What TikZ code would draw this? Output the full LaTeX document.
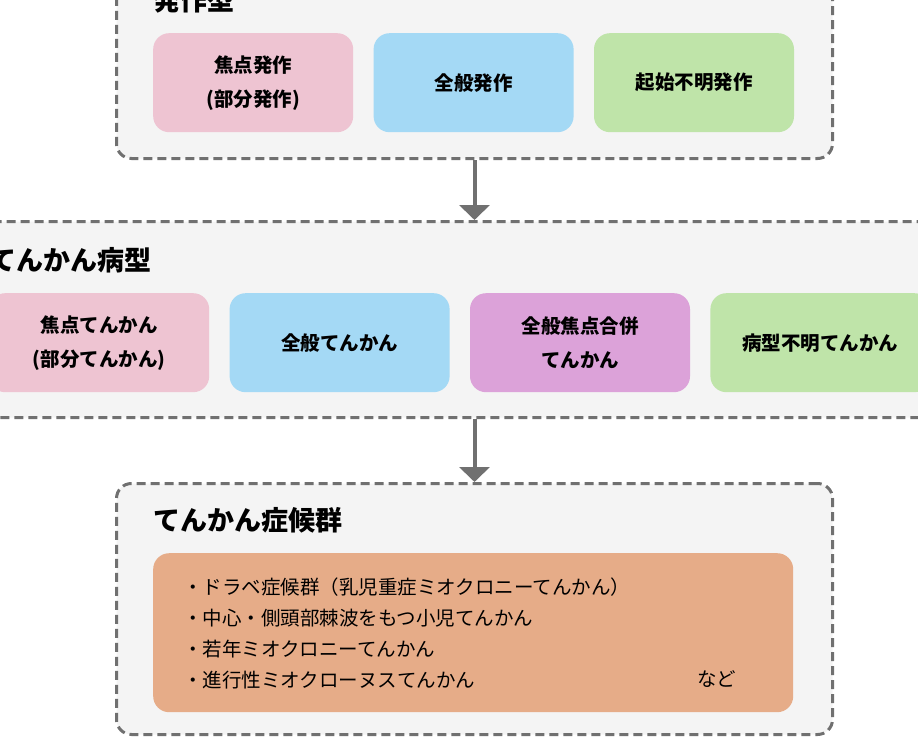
\documentclass[tikz,border=0pt]{standalone}
\usepackage{fontspec}
\setmainfont{Noto Sans CJK JP}
\usepackage{xcolor}
\usetikzlibrary{positioning}
\usetikzlibrary{arrows.meta}
\definecolor{panelgray}{HTML}{F4F4F4}
\definecolor{edgegray}{HTML}{707070}
\definecolor{focalpink}{HTML}{EEC4D2}
\definecolor{genblue}{HTML}{A4D9F5}
\definecolor{mixpurple}{HTML}{DCA2D9}
\definecolor{unkgreen}{HTML}{BFE4A9}
\definecolor{synorange}{HTML}{E6AC88}

\begin{document}
\begin{tikzpicture}[x=1pt,y=-1pt,node distance=20pt,
  panel/.style={draw=edgegray,fill=panelgray,line width=3pt,dash pattern=on 9pt off 5pt,rounded corners=15pt,anchor=north west,inner sep=0pt},
  head/.style={anchor=west,inner sep=0pt,font=\bfseries\fontsize{27}{32}\selectfont},
  kind/.style={rounded corners=16pt,minimum height=99pt,inner sep=0pt,align=center,anchor=north west,font=\bfseries\fontsize{19.5}{34}\selectfont},
  flow/.style={draw=edgegray,line width=4pt,-{Triangle[length=15pt,width=30pt]}}]
\clip (0,0) rectangle (918,741);

% seizure types
\node[panel,minimum width=716pt,minimum height=195pt] (seizure) at (115,-38) {};
\node[head] (seizurehead) at (153,0) {発作型};
\node[kind,fill=focalpink,minimum width=200pt] (sfocal) at (153,33) {焦点発作\\(部分発作)};
\node[kind,fill=genblue,minimum width=200pt,right=of sfocal] (sgen) {全般発作};
\node[kind,fill=unkgreen,minimum width=200pt,right=of sgen] (sunk) {起始不明発作};

% epilepsy types
\node[panel,minimum width=1016pt,minimum height=196pt] (epilepsy) at (-49,220) {};
\node[head] (epilepsyhead) at (-11,260) {てんかん病型};
\node[kind,fill=focalpink,minimum width=220pt] (efocal) at (-11,293) {焦点てんかん\\(部分てんかん)};
\node[kind,fill=genblue,minimum width=220pt,right=of efocal] (egen) {全般てんかん};
\node[kind,fill=mixpurple,minimum width=220pt,right=of egen] (emix) {全般焦点合併\\てんかん};
\node[kind,fill=unkgreen,minimum width=220pt,right=of emix] (eunk) {病型不明てんかん};

% syndromes
\node[panel,minimum width=716pt,minimum height=251pt] (syndrome) at (115,482) {};
\node[head] (syndromehead) at (153,520) {てんかん症候群};
\node[kind,fill=synorange,minimum width=640pt,minimum height=159pt] (synlist) at (153,553) {};
\node[anchor=west,inner sep=0pt,align=left,font=\fontsize{19.5}{31}\selectfont] (synitems) at (183,633)
  {・ドラベ症候群（乳児重症ミオクロニーてんかん）\\・中心・側頭部棘波をもつ小児てんかん\\・若年ミオクロニーてんかん\\・進行性ミオクローヌスてんかん};
\node[anchor=west,inner sep=0pt,font=\fontsize{19.5}{31}\selectfont] (synetc) at (697,679) {など};

\draw[flow] (seizure.south) -- (seizure.south |- epilepsy.north);
\draw[flow] (epilepsy.south -| seizure.south) -- (syndrome.north -| seizure.south);
\end{tikzpicture}
\end{document}
